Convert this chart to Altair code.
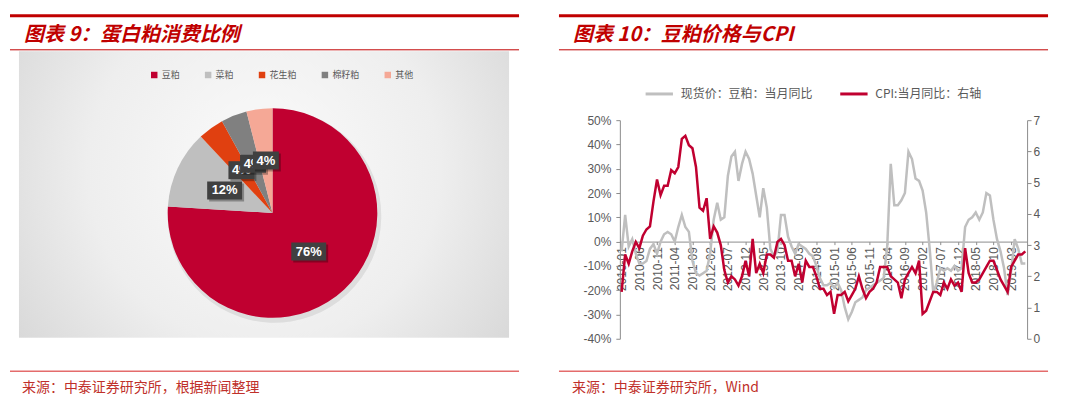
import altair as alt
import pandas as pd

# ---------------- data ----------------
pie_names = ["豆粕", "菜粕", "花生粕", "棉籽粕", "其他"]
pie_values = [76, 12, 4, 4, 4]
pie_colors = ["#C00030", "#BFBFBF", "#E04010", "#808080", "#F5A896"]

months = [f"{y}-{m:02d}" for y in range(2010, 2020) for m in range(1, 13)][:115]
x_tick_labels = ["2010-01", "2010-06", "2010-11", "2011-04", "2011-09", "2012-02",
                 "2012-07", "2012-12", "2013-05", "2013-10", "2014-03", "2014-08",
                 "2015-01", "2015-06", "2015-11", "2016-04", "2016-09", "2017-02",
                 "2017-07", "2017-12", "2018-05", "2018-10", "2019-03"]

soy_name = "现货价：豆粕：当月同比"
cpi_name = "CPI:当月同比：右轴"

soy_yoy = [-4, 11, -2, 1, -5, -9, -9, -8, -3, -1, -5, 0,
           3, 4, 3, 0, 6, 11, 6, 4, -8, -13, -14, -13,
           -12, -5, 9, 16, 9, 10, 27, 35, 37, 25, 32, 37,
           34, 28, 19, 10, 22, 14, -3, -6, -4, 11, 11, 2,
           -2, -5, -1, -2, -3, -5, -6, -10, -15, -18, -18, -17,
           -19, -17, -20, -27, -32, -29, -25, -24, -23, -20, -19, -18,
           -17, -16, -15, -2, 32, 15, 15, 17, 20, 37, 34, 26,
           25, 21, 12, -3, -21, -17, -11, -12, -11, -12, -10, -12,
           -11, 6, 9, 10, 12, 9, 12, 20, 19, 9, 1, -4,
           -11, -22, -12, 1, -3, -9, -9]

cpi_yoy = [1.5, 2.7, 2.4, 2.8, 3.1, 2.9, 3.3, 3.5, 3.6, 4.4, 5.1, 4.6,
           4.9, 4.9, 5.4, 5.3, 5.5, 6.4, 6.5, 6.2, 6.1, 5.5, 4.2, 4.1,
           4.5, 3.2, 3.6, 3.4, 3.0, 2.2, 1.8, 2.0, 1.9, 1.7, 2.0, 2.5,
           2.0, 3.2, 2.1, 2.4, 2.1, 2.7, 2.7, 2.6, 3.1, 3.2, 3.0, 2.5,
           2.5, 2.0, 2.4, 1.8, 2.5, 2.3, 2.3, 2.0, 1.6, 1.6, 1.4, 1.5,
           0.8, 1.4, 1.4, 1.5, 1.2, 1.4, 1.6, 2.0, 1.6, 1.3, 1.5, 1.6,
           1.8, 2.3, 2.3, 2.3, 2.0, 1.9, 1.8, 1.3, 1.9, 2.1, 2.3, 2.1,
           2.5, 0.8, 0.9, 1.2, 1.5, 1.5, 1.4, 1.8, 1.6, 1.9, 1.7, 1.8,
           1.5, 2.9, 2.1, 1.8, 1.8, 1.9, 2.1, 2.3, 2.5, 2.5, 2.2, 1.9,
           1.7, 1.5, 2.3, 2.5, 2.7, 2.7, 2.8]

left_axis_values = [-40, -30, -20, -10, 0, 10, 20, 30, 40, 50]
right_axis_values = [0, 1, 2, 3, 4, 5, 6, 7]

title_left = "图表 9：蛋白粕消费比例"
title_right = "图表 10：豆粕价格与CPI"
source_left = "来源：中泰证券研究所，根据新闻整理"
source_right = "来源：中泰证券研究所，Wind"

# ---------------- layout constants ----------------
W, H = 532, 401
RED = "#C00000"
PINK = "#E46C6C"
CJK = "Noto Sans CJK SC"

one = pd.DataFrame({"k": [0]})


def hrule(x0, x1, y, color, width):
    return alt.Chart(one).mark_rule(color=color, strokeWidth=width).encode(
        x=alt.value(x0), x2=alt.value(x1), y=alt.value(y))


def text_at(x, y, txt, **kw):
    return alt.Chart(one).mark_text(align="left", baseline="middle", **kw).encode(
        x=alt.value(x), y=alt.value(y), text=alt.value(txt))


# ---------------- left panel: pie ----------------
pie_df = pd.DataFrame({"name": pie_names, "value": pie_values, "order": list(range(5))})
CX, CY, R, LR = 263, 205, 105, 53

bg = alt.Chart(one).mark_rect(
    color=alt.Gradient(
        gradient="radial",
        stops=[alt.GradientStop(color="#fbfbfb", offset=0),
               alt.GradientStop(color="#eeeeee", offset=0.5),
               alt.GradientStop(color="#cfcfcf", offset=1)],
        x1=0.5, y1=0.45, r1=0, x2=0.5, y2=0.45, r2=0.72)
).encode(x=alt.value(9), x2=alt.value(500), y=alt.value(43), y2=alt.value(330))

pie_shadow = alt.Chart(pie_df).mark_arc(outerRadius=R + 2, color="#000000", opacity=0.08).encode(
    theta=alt.Theta("value:Q", stack=True), order=alt.Order("order:Q"),
    x=alt.value(CX + 2), y=alt.value(CY + 3))

pie = alt.Chart(pie_df).mark_arc(outerRadius=R).encode(
    theta=alt.Theta("value:Q", stack=True),
    order=alt.Order("order:Q"),
    color=alt.Color("name:N", sort=None,
                    scale=alt.Scale(domain=pie_names, range=pie_colors),
                    legend=alt.Legend(orient="none", legendX=140, legendY=62,
                                      direction="horizontal", title=None,
                                      symbolType="square", symbolSize=42,
                                      symbolStrokeWidth=0,
                                      labelFont=CJK, labelFontSize=9,
                                      labelColor="#595959", labelOffset=3,
                                      columnPadding=23)),
    x=alt.value(CX), y=alt.value(CY))


def label_base():
    return (alt.Chart(pie_df)
            .transform_joinaggregate(total="sum(value)")
            .transform_window(cum="sum(value)", sort=[alt.SortField("order")])
            .transform_calculate(
                mid="2*PI*(datum.cum - datum.value/2)/datum.total",
                lx=f"{CX} + {LR}*sin(datum.mid)",
                ly=f"{CY} - {LR}*cos(datum.mid)",
                label="datum.value + '%'")
            .transform_calculate(hw="4 + 4.5*length(datum.label)")
            .transform_calculate(bx="datum.lx - datum.hw", bx2="datum.lx + datum.hw",
                                 by="datum.ly - 9", by2="datum.ly + 9",
                                 sx="datum.lx - datum.hw + 2", sx2="datum.lx + datum.hw + 2",
                                 sy="datum.ly - 7", sy2="datum.ly + 11"))


label_layers = []
for i in range(len(pie_names)):
    b = label_base().transform_filter(f"datum.order == {i}")
    label_layers.append(b.mark_rect(color="#000000", opacity=0.3).encode(
        x=alt.X("sx:Q", scale=None, axis=None), x2="sx2:Q",
        y=alt.Y("sy:Q", scale=None, axis=None), y2="sy2:Q"))
    label_layers.append(b.mark_rect(color="#404040").encode(
        x=alt.X("bx:Q", scale=None, axis=None), x2="bx2:Q",
        y=alt.Y("by:Q", scale=None, axis=None), y2="by2:Q"))
    label_layers.append(b.mark_text(font="Liberation Sans", fontWeight="bold",
                                    fontSize=13, color="white").encode(
        x=alt.X("lx:Q", scale=None, axis=None),
        y=alt.Y("ly:Q", scale=None, axis=None), text="label:N"))

left = alt.layer(
    hrule(0, 510, 7.5, RED, 3),
    text_at(14, 27, title_left, font=CJK, fontSize=20, fontWeight="bold",
            fontStyle="italic", color=RED),
    hrule(0, 510, 41.5, RED, 1),
    bg, pie_shadow, pie, *label_layers,
    hrule(0, 510, 363.5, PINK, 1.5),
    text_at(12, 380, source_left, font=CJK, fontSize=14, color="#C0302A"),
).properties(width=W, height=H)

# ---------------- right panel: lines ----------------
X0, X1 = 79, 487
YT, YB = 112, 331
Y_ZERO = YB - (0 - (-40)) / 90 * (YB - YT)

line_df = pd.DataFrame({
    "month": months * 2,
    "series": [soy_name] * len(months) + [cpi_name] * len(months),
    "value": soy_yoy + cpi_yoy,
})

axis_common = dict(domainColor="#8C8C8C", tickColor="#8C8C8C", labelColor="#595959",
                   labelFont="Liberation Sans", labelFontSize=12, title=None, grid=False)

x_enc = alt.X("month:O", sort=None,
              scale=alt.Scale(type="point", padding=0.5, range=[X0, X1]),
              axis=alt.Axis(values=x_tick_labels, labelAngle=-90, orient="bottom",
                            offset=-(H - Y_ZERO), tickSize=3, labelPadding=2,
                            **axis_common))

color_enc = alt.Color("series:N", sort=None,
                      scale=alt.Scale(domain=[soy_name, cpi_name],
                                      range=["#BFBFBF", "#C00030"]),
                      legend=alt.Legend(orient="none", legendX=103, legendY=70,
                                        direction="horizontal", title=None,
                                        symbolType="stroke", symbolSize=750,
                                        symbolStrokeWidth=3,
                                        labelFont=CJK, labelFontSize=12,
                                        labelColor="#595959", labelOffset=6,
                                        columnPadding=20))

soy_layer = alt.Chart(line_df).transform_filter(alt.datum.series == soy_name).mark_line(
    strokeWidth=2.5).encode(
    x=x_enc,
    y=alt.Y("value:Q",
            scale=alt.Scale(domain=[-40, 50], range=[YB, YT], nice=False, zero=False),
            axis=alt.Axis(orient="left", offset=-X0, values=left_axis_values,
                          labelExpr="datum.value + '%'", tickSize=4, labelPadding=5,
                          **axis_common)),
    color=color_enc)

cpi_layer = alt.Chart(line_df).transform_filter(alt.datum.series == cpi_name).mark_line(
    strokeWidth=2.5).encode(
    x=x_enc,
    y=alt.Y("value:Q",
            scale=alt.Scale(domain=[0, 7], range=[YB, YT], nice=False, zero=False),
            axis=alt.Axis(orient="right", offset=-(W - X1), values=right_axis_values,
                          tickSize=4, labelPadding=2, **axis_common)),
    color=color_enc)

lines = alt.layer(soy_layer, cpi_layer).resolve_scale(y="independent")

right = alt.layer(
    hrule(18, 508, 7.5, RED, 3),
    text_at(32, 27, title_right, font=CJK, fontSize=20, fontWeight="bold",
            fontStyle="italic", color=RED),
    hrule(18, 508, 41.5, RED, 1),
    lines,
    hrule(18, 508, 363.5, PINK, 1.5),
    text_at(31, 380, source_right, font=CJK, fontSize=14, color="#C0302A"),
).properties(width=W, height=H)

chart = (alt.hconcat(left, right, spacing=0)
         .resolve_scale(color="independent")
         .properties(padding=0, background="white")
         .configure_view(stroke=None))

chart.save("out.html", embed_options={"renderer": "svg", "actions": False})
